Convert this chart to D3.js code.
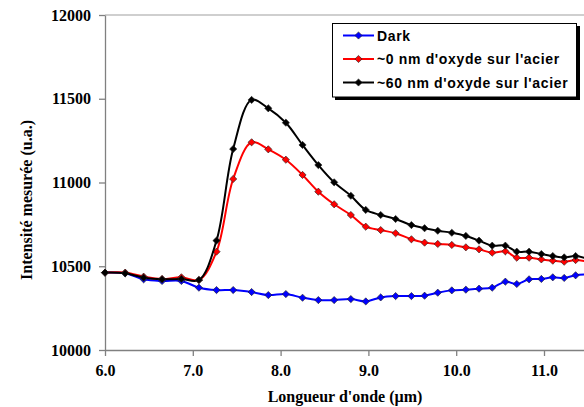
<!DOCTYPE html>
<html>
<head>
<meta charset="utf-8">
<script src="https://cdn.jsdelivr.net/npm/d3@7"></script>
<style>
  html, body { margin: 0; padding: 0; background: #fff; }
  svg { display: block; }
</style>
</head>
<body>
<svg id="chart" width="584" height="407"></svg>
<script>
// ---- data ----
const wavelengths = [6.00, 6.23, 6.44, 6.65, 6.87, 7.07, 7.27, 7.46, 7.67, 7.86, 8.06, 8.25, 8.43, 8.61, 8.80, 8.97, 9.14, 9.31, 9.49, 9.64, 9.79, 9.95, 10.11, 10.26, 10.41, 10.56, 10.69, 10.83, 10.97, 11.10, 11.23, 11.36, 11.50];
const darkValues = [10462, 10458, 10422, 10412, 10412, 10372, 10358, 10358, 10346, 10328, 10334, 10312, 10298, 10298, 10304, 10290, 10314, 10322, 10322, 10324, 10342, 10356, 10360, 10366, 10372, 10408, 10394, 10422, 10424, 10434, 10430, 10446, 10452];
const oxide0Values = [10462, 10462, 10438, 10424, 10434, 10418, 10587, 11021, 11240, 11198, 11136, 11045, 10945, 10870, 10806, 10736, 10716, 10697, 10661, 10641, 10633, 10627, 10613, 10601, 10581, 10589, 10551, 10551, 10541, 10533, 10527, 10537, 10527];
const oxide60Values = [10462, 10458, 10432, 10422, 10424, 10418, 10653, 11200, 11493, 11443, 11357, 11224, 11104, 11001, 10921, 10836, 10806, 10782, 10746, 10727, 10712, 10700, 10681, 10653, 10623, 10623, 10587, 10587, 10573, 10561, 10553, 10561, 10543];
const seriesNames = ["Dark", "~0 nm d'oxyde sur l'acier", "~60 nm d'oxyde sur l'acier"];
const seriesColors = ["#0000ff", "#ff0000", "#000000"];
const xTicks = [6, 7, 8, 9, 10, 11];
const yTicks = [10000, 10500, 11000, 11500, 12000];
const xTitle = "Longueur d'onde (\u00b5m)";
const yTitle = "Intensit\u00e9 mesur\u00e9e (u.a.)";

const seriesList = [darkValues, oxide0Values, oxide60Values].map((vals, i) => ({
  name: seriesNames[i], color: seriesColors[i],
  points: vals.map((v, j) => ({ x: wavelengths[j], y: v }))
}));

// ---- layout ----
const svg = d3.select("#chart");
const plotLeft = 105, plotTop = 15, plotBottom = 350;
const x = d3.scaleLinear().domain([6, 12]).range([plotLeft, plotLeft + 87.8 * 6]);
const y = d3.scaleLinear().domain([10000, 12000]).range([plotBottom, plotTop]);

const serif = "'Liberation Serif', 'Times New Roman', serif";
const sans = "'Liberation Sans', Arial, sans-serif";

// top border of plot area
svg.append("line").attr("x1", plotLeft).attr("x2", 584).attr("y1", plotTop).attr("y2", plotTop)
  .attr("stroke", "#a0a0a0").attr("stroke-width", 1.2);

// axes
const xAxis = svg.append("g").attr("transform", `translate(0,${plotBottom})`)
  .call(d3.axisBottom(x).tickValues(xTicks).tickFormat(d3.format(".1f")).tickSize(6).tickSizeOuter(0));
const yAxis = svg.append("g").attr("transform", `translate(${plotLeft},0)`)
  .call(d3.axisLeft(y).tickValues(yTicks).tickFormat(d => d).tickSize(6).tickSizeOuter(0));
[xAxis, yAxis].forEach(g => {
  g.select(".domain").attr("stroke", "#808080").attr("stroke-width", 1.3);
  g.selectAll(".tick line").attr("stroke", "#808080").attr("stroke-width", 1.3);
  g.selectAll(".tick text").attr("fill", "#000").attr("font-family", serif)
    .attr("font-weight", "bold").attr("font-size", 16);
});
xAxis.selectAll(".tick text").attr("dy", "1.05em");
yAxis.selectAll(".tick text").attr("x", -14);

// titles
svg.append("text").attr("x", 345).attr("y", 402).attr("text-anchor", "middle")
  .attr("font-family", serif).attr("font-weight", "bold").attr("font-size", 16).text(xTitle);
svg.append("text").attr("transform", "translate(32,200) rotate(-90)").attr("text-anchor", "middle")
  .attr("font-family", serif).attr("font-weight", "bold").attr("font-size", 16).text(yTitle);

// series
const line = d3.line().x(d => x(d.x)).y(d => y(d.y)).curve(d3.curveCatmullRom.alpha(0.5));
const diamond = d3.symbol(d3.symbolSquare, 26);
const plot = svg.append("g");
seriesList.forEach(s => {
  const g = plot.append("g");
  g.append("path").datum(s.points).attr("d", line).attr("fill", "none")
    .attr("stroke", s.color).attr("stroke-width", 2);
  g.selectAll("path.m").data(s.points).join("path").attr("class", "m")
    .attr("d", diamond)
    .attr("transform", d => `translate(${x(d.x)},${y(d.y)}) rotate(45)`)
    .attr("fill", s.color).attr("stroke", "#222").attr("stroke-width", 0.6);
});

// legend
const lg = svg.append("g");
lg.append("rect").attr("x", 335).attr("y", 26).attr("width", 245).attr("height", 74).attr("fill", "#000");
lg.append("rect").attr("x", 332.5).attr("y", 23.5).attr("width", 244).attr("height", 73.5)
  .attr("fill", "#fff").attr("stroke", "#000").attr("stroke-width", 1);
seriesList.forEach((s, i) => {
  const ry = 35.5 + i * 23.5;
  lg.append("line").attr("x1", 343).attr("x2", 374).attr("y1", ry).attr("y2", ry)
    .attr("stroke", s.color).attr("stroke-width", 2);
  lg.append("path").attr("d", diamond).attr("transform", `translate(358.5,${ry}) rotate(45)`)
    .attr("fill", s.color).attr("stroke", "#222").attr("stroke-width", 0.6);
  lg.append("text").attr("x", 377).attr("y", ry + 5).attr("font-family", sans)
    .attr("font-weight", "bold").attr("font-size", 14).attr("letter-spacing", 0.65).text(s.name);
});
</script>
</body>
</html>
